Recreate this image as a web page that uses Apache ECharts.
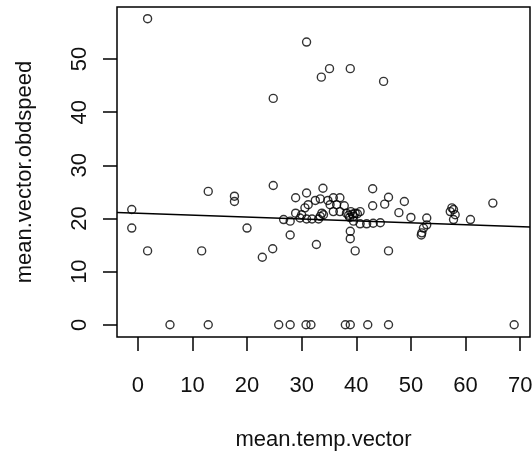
<!DOCTYPE html>
<html>
<head>
<meta charset="utf-8">
<script src="https://cdn.jsdelivr.net/npm/echarts@6/dist/echarts.min.js"></script>
<style>
html,body{margin:0;padding:0;background:#fff;}
#chart{width:532px;height:452px;}
</style>
</head>
<body>
<div id="chart"></div>
<script>
var xTitle = 'mean.temp.vector';
var yTitle = 'mean.vector.obdspeed';
var xTicks = [0, 10, 20, 30, 40, 50, 60, 70];
var yTicks = [0, 10, 20, 30, 40, 50];
var xValues = [-1.1,-1.1,1.8,1.8,5.9,11.7,12.9,12.9,17.7,17.7,20.0,22.8,24.7,24.8,24.8,25.8,26.7,27.9,27.9,27.9,
  28.9,28.9,29.7,30.0,30.6,30.8,30.9,30.9,30.9,31.2,31.7,31.9,32.5,32.7,33.1,33.4,33.4,33.6,33.7,33.9,
  34.0,34.8,35.1,35.2,35.8,35.8,36.4,37.0,37.0,37.8,38.0,38.2,38.6,38.8,38.9,38.9,38.9,38.9,39.0,39.3,
  39.5,39.5,39.8,39.8,40.2,40.7,40.7,41.9,42.1,43.0,43.0,43.1,44.4,45.0,45.2,45.9,45.9,45.9,47.8,48.8,
  50.0,52.9,52.9,52.3,52.0,51.9,57.5,57.8,57.2,58.1,57.8,60.9,65.0,68.9];
var yValues = [21.7,18.2,57.6,13.9,0,13.9,25.1,0,24.2,23.2,18.2,12.7,14.3,26.2,42.6,0,19.8,19.5,16.9,0,
  23.9,21.0,20.1,20.7,22.0,0,24.8,19.9,53.2,22.6,0,19.9,23.4,15.1,19.9,23.7,20.4,46.6,21.0,25.7,
  20.7,23.4,48.2,22.6,21.3,23.9,22.6,23.9,21.3,22.4,0,21.0,20.6,20.2,48.2,17.6,16.2,0,21.3,20.8,
  20.4,19.5,21.0,13.9,20.9,21.3,19.0,19.0,0,25.6,22.4,19.1,19.2,45.8,22.7,24.0,13.9,0,21.1,23.2,
  20.2,20.1,18.8,18.2,17.3,16.9,22.0,21.7,21.3,20.7,19.8,19.8,22.9,0];
var fitX = [-3.8, 71.8];
var fitY = [21.15, 18.4];

var pts = xValues.map(function(x, i){ return [x, yValues[i]]; });
var fit = fitX.map(function(x, i){ return [x, fitY[i]]; });

var font = 'Liberation Sans, Arial, sans-serif';
var chart = echarts.init(document.getElementById('chart'), null, {renderer:'canvas'});
chart.setOption({
  animation: false,
  backgroundColor: '#fff',
  grid: {left: 117, right: 2, top: 7, bottom: 115, show: true, borderColor: '#000', borderWidth: 1.5,
    backgroundColor: 'transparent', containLabel: false, outerBoundsMode: 'none'},
  xAxis: {
    type: 'value', min: -3.8, max: 71.8,
    name: xTitle, nameLocation: 'middle', nameGap: 92,
    nameTextStyle: {fontFamily: font, fontSize: 22, color: '#111'},
    axisLine: {show: false, onZero: false},
    splitLine: {show: false},
    axisTick: {show: true, length: 14, inside: false, customValues: xTicks, lineStyle: {color: '#000', width: 1.5}},
    axisLabel: {customValues: xTicks, margin: 38, fontFamily: font, fontSize: 22, color: '#111'}
  },
  yAxis: {
    type: 'value', min: -2.3, max: 59.8,
    name: yTitle, nameLocation: 'middle', nameGap: 81, nameRotate: 90,
    nameTextStyle: {fontFamily: font, fontSize: 22, color: '#111'},
    axisLine: {show: false, onZero: false},
    splitLine: {show: false},
    axisTick: {show: true, length: 14, inside: false, customValues: yTicks, lineStyle: {color: '#000', width: 1.5}},
    axisLabel: {customValues: yTicks, rotate: 90, margin: 26, fontFamily: font, fontSize: 22, color: '#111'}
  },
  series: [
    {
      type: 'scatter', data: pts, symbol: 'circle', symbolSize: 8,
      itemStyle: {color: 'rgba(0,0,0,0)', borderColor: '#000', borderWidth: 1.4},
      emphasis: {disabled: true}, z: 3
    },
    {
      type: 'line', data: fit, symbol: 'none',
      lineStyle: {color: '#000', width: 1.5}, z: 2
    }
  ]
});
</script>
</body>
</html>
